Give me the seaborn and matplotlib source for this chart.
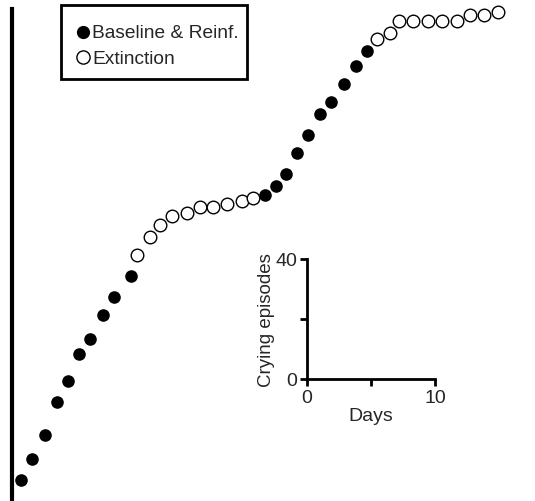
import numpy as np
import pandas as pd
import seaborn as sns
import matplotlib
matplotlib.use("Agg")
import matplotlib.pyplot as plt
from matplotlib.patches import Rectangle

# Cumulative crying episodes across days, four phases
days = [0.7, 1.6, 2.6, 3.5, 4.4, 5.2, 6.1, 7.1, 8.0, 9.3,
        9.8, 10.8, 11.6, 12.5, 13.7, 14.7, 15.7, 16.8, 18.0, 18.8,
        19.8, 20.6, 21.4, 22.3, 23.1, 24.1, 24.9, 25.9, 26.9, 27.7,
        28.5, 29.5, 30.2, 31.3, 32.5, 33.6, 34.8, 35.8, 36.9, 38.0]
cumulative = [3, 10, 18, 29, 36, 45, 50, 58, 64, 71,
              78, 84, 88, 91, 92, 94, 94, 95, 96, 97,
              98, 101, 105, 112, 118, 125, 129, 135, 141, 146,
              150, 152, 156, 156, 156, 156, 156, 158, 158, 159]
phase = (["Baseline & Reinf."] * 10 + ["Extinction"] * 10 +
         ["Baseline & Reinf."] * 10 + ["Extinction"] * 10)

df = pd.DataFrame({"day": days, "episodes": cumulative, "phase": phase})

sns.set_style("white")
plt.rcParams["font.family"] = ["Liberation Sans", "DejaVu Sans"]

W, H = 535, 502
fig = plt.figure(figsize=(W / 100, H / 100), dpi=100)

# Main cumulative record: only a left axis, scaled to the inset key
ax = fig.add_axes([12 / W, 0, (W - 12) / W, (H - 10) / H])
reinf = df[df.phase == "Baseline & Reinf."]
ext = df[df.phase == "Extinction"]
sns.scatterplot(data=reinf, x="day", y="episodes", ax=ax, color="black",
                s=82, linewidth=0, label="Baseline & Reinf.", clip_on=False)
sns.scatterplot(data=ext, x="day", y="episodes", ax=ax, facecolor="white",
                edgecolor="black", s=82, linewidth=1.0, label="Extinction",
                clip_on=False)
ax.set_xlim(0, (W - 12) / 12.8)
ax.set_ylim(-4, 160)
for side in ["top", "right", "bottom"]:
    ax.spines[side].set_visible(False)
ax.spines["left"].set_linewidth(3)
ax.spines["left"].set_color("black")
ax.set_xticks([])
ax.set_yticks([])
ax.set_xlabel("")
ax.set_ylabel("")

# Legend entries without their own frame; a separate box encloses them
leg = ax.legend(loc="upper left", bbox_to_anchor=(74 / W, 1 - 25 / H),
                bbox_transform=fig.transFigure, borderaxespad=0,
                frameon=False, fontsize=13.8, borderpad=0,
                handletextpad=0.05, handlelength=0.9,
                labelspacing=0.4, markerscale=1.05)
fig.patches.append(Rectangle((61 / W, 1 - 80 / H), (247 - 61) / W, 74 / H,
                             transform=fig.transFigure, fill=False,
                             edgecolor="black", linewidth=2, zorder=5))

# Scale key: days on x, crying episodes on y
inset = fig.add_axes([307 / W, (H - 380) / H, 128 / W, 120 / H])
inset.set_xlim(0, 10)
inset.set_ylim(0, 40)
inset.set_facecolor("none")
for side in ["top", "right"]:
    inset.spines[side].set_visible(False)
for side in ["left", "bottom"]:
    inset.spines[side].set_linewidth(2)
    inset.spines[side].set_color("black")
inset.set_xticks([0, 5, 10])
inset.set_xticklabels(["0", "", "10"])
inset.set_yticks([0, 20, 40])
inset.set_yticklabels(["0", "", "40"])
inset.tick_params(axis="both", direction="out", length=5, width=2,
                  labelsize=14, pad=2, color="black",
                  left=True, bottom=True)
inset.set_xlabel("Days", fontsize=14, labelpad=1)
inset.set_ylabel("Crying episodes", fontsize=13.5, labelpad=0)

fig.savefig("out.png", dpi=100)
